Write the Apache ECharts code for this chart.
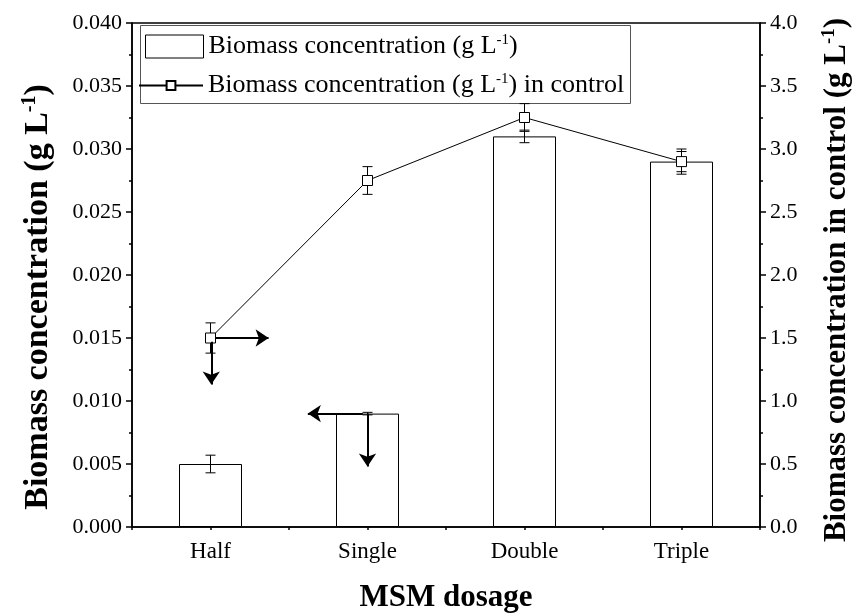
<!DOCTYPE html>
<html><head><meta charset="utf-8">
<script src="https://cdn.jsdelivr.net/npm/echarts@6/dist/echarts.min.js"></script>
<style>html,body{margin:0;padding:0;background:#fff}#c{width:854px;height:616px}</style>
</head><body><div id="c"></div>
<script>
var categories = ['Half', 'Single', 'Double', 'Triple'];
var biomass = [0.005, 0.009, 0.031, 0.029];
var biomassErr = [0.0007, 0.0001, 0.0005, 0.0008];
var control = [1.5, 2.75, 3.25, 2.9];
var controlErr = [0.12, 0.11, 0.11, 0.1];
var leftTicks = {min: 0, max: 0.04, interval: 0.005};
var rightTicks = {min: 0, max: 4.0, interval: 0.5};
// arrow annotations: [x(category units, 1 = Half), y] start -> end
var arrowsRight = [ [[1.03, 1.5], [1.37, 1.5]], [[1.005, 1.47], [1.005, 1.13]] ];
var arrowsLeft = [ [[1.97, 0.009], [1.62, 0.009]], [[2.0, 0.009], [2.0, 0.0048]] ];

var serif = 'Liberation Serif';
var nameBar = 'Biomass concentration (g L-1)';
var nameLine = 'Biomass concentration (g L-1) in control';
var rich = {
  n: {fontFamily: serif, fontSize: 26, color: '#000'},
  s: {fontFamily: serif, fontSize: 15, color: '#000', padding: [0, 0, 12, 0]}
};
function richBold(size, sup) {
  return {
    n: {fontFamily: serif, fontSize: size, fontWeight: 'bold', color: '#000'},
    s: {fontFamily: serif, fontSize: sup, fontWeight: 'bold', color: '#000', padding: [0, 0, Math.round(size * 0.48), 0]}
  };
}
function errData(vals, errs) { return vals.map(function (v, i) { return [i, v - errs[i], v + errs[i]]; }); }
function errRender(params, api) {
  var x = api.value(0), lo = api.value(1), hi = api.value(2);
  var p1 = api.coord([x, lo]), p2 = api.coord([x, hi]);
  var hw = 5;
  var st = {stroke: '#000', lineWidth: 1};
  return {type: 'group', children: [
    {type: 'line', shape: {x1: p1[0], y1: p1[1], x2: p2[0], y2: p2[1]}, style: st},
    {type: 'line', shape: {x1: p1[0] - hw, y1: p1[1], x2: p1[0] + hw, y2: p1[1]}, style: st},
    {type: 'line', shape: {x1: p2[0] - hw, y1: p2[1], x2: p2[0] + hw, y2: p2[1]}, style: st}
  ]};
}
var axisLine = {show: true, lineStyle: {color: '#000', width: 1.5}};
var chart = echarts.init(document.getElementById('c'));
chart.setOption({
  animation: false,
  backgroundColor: '#fff',
  grid: {left: 132, right: 94, top: 23, bottom: 89, show: true, borderColor: '#000', borderWidth: 1.5,
         containLabel: false, outerBoundsMode: 'none'},
  legend: [
    {left: 145, top: 33, itemWidth: 58, itemHeight: 23, padding: 0, data: [{name: nameBar, icon: 'rect'}],
     formatter: function () { return '{n|Biomass concentration (g L}{s|-1}{n|)}'; },
     textStyle: {rich: rich}, itemStyle: {borderColor: '#000', borderWidth: 1, color: '#fff'}},
    {left: 138, top: 72, itemWidth: 64, itemHeight: 11, padding: 0, data: [nameLine],
     formatter: function () { return '{n|Biomass concentration (g L}{s|-1}{n|) in control}'; },
     textStyle: {rich: rich}}
  ],
  graphic: [{type: 'rect', left: 138, top: 23, shape: {width: 490, height: 78},
    style: {fill: 'none', stroke: '#555', lineWidth: 1}, z: 0}],
  xAxis: [
    {type: 'category', data: categories, boundaryGap: true, axisLine: axisLine,
     axisTick: {alignWithLabel: true, length: 6, lineStyle: {color: '#000', width: 1.5}},
     axisLabel: {fontFamily: serif, fontSize: 23, color: '#000', margin: 13},
     name: 'MSM dosage', nameLocation: 'middle', nameGap: 55,
     nameTextStyle: {fontFamily: serif, fontSize: 31, fontWeight: 'bold', color: '#000', verticalAlign: 'top'}},
    {type: 'value', min: 0.5, max: 4.5, interval: 0.5, position: 'bottom',
     axisLine: {show: false}, axisLabel: {show: false}, splitLine: {show: false},
     axisTick: {show: true, length: 3, lineStyle: {color: '#000', width: 1.5}}}
  ],
  yAxis: [
    {type: 'value', min: leftTicks.min, max: leftTicks.max, interval: leftTicks.interval, position: 'left',
     axisLine: axisLine, splitLine: {show: false},
     axisTick: {show: true, length: 6, lineStyle: {color: '#000', width: 1.5}},
     minorTick: {show: true, splitNumber: 2, length: 3, lineStyle: {color: '#000', width: 1.5}},
     axisLabel: {fontFamily: serif, fontSize: 22, color: '#000', margin: 10,
       formatter: function (v) { return v.toFixed(3); }},
     name: '{n|Biomass concentration (g L}{s|-1}{n|)}', nameLocation: 'middle', nameGap: 76, nameRotate: 90,
     nameTextStyle: {rich: richBold(34, 20), padding: [0, 44, 0, 0]}},
    {type: 'value', min: rightTicks.min, max: rightTicks.max, interval: rightTicks.interval, position: 'right',
     axisLine: axisLine, splitLine: {show: false},
     axisTick: {show: true, length: 6, lineStyle: {color: '#000', width: 1.5}},
     minorTick: {show: true, splitNumber: 2, length: 3, lineStyle: {color: '#000', width: 1.5}},
     axisLabel: {fontFamily: serif, fontSize: 22, color: '#000', margin: 10,
       formatter: function (v) { return v.toFixed(1); }},
     name: '{n|Biomass concentration in control (g L}{s|-1}{n|)}', nameLocation: 'middle', nameGap: 60, nameRotate: 90,
     nameTextStyle: {rich: richBold(31, 19), padding: [0, 10, 0, 0]}}
  ],
  series: [
    {name: nameBar, type: 'bar', data: biomass, barWidth: 63, xAxisIndex: 0, yAxisIndex: 0,
     itemStyle: {color: '#fff', borderColor: '#000', borderWidth: 1}, z: 2},
    {type: 'custom', renderItem: errRender, data: errData(biomass, biomassErr), xAxisIndex: 0, yAxisIndex: 0, z: 3},
    {type: 'custom', renderItem: errRender, data: errData(control, controlErr), xAxisIndex: 0, yAxisIndex: 1, z: 3},
    {name: nameLine, type: 'line', data: control, xAxisIndex: 0, yAxisIndex: 1, symbol: 'rect', symbolSize: 10,
     lineStyle: {color: '#000', width: 1}, itemStyle: {color: '#fff', borderColor: '#000', borderWidth: 1}, z: 4},
    {type: 'lines', coordinateSystem: 'cartesian2d', xAxisIndex: 1, yAxisIndex: 1, symbol: ['none', 'arrow'], symbolSize: 13,
     lineStyle: {color: '#000', width: 2, opacity: 1}, data: arrowsRight.map(function (a) { return {coords: a}; }), z: 5},
    {type: 'lines', coordinateSystem: 'cartesian2d', xAxisIndex: 1, yAxisIndex: 0, symbol: ['none', 'arrow'], symbolSize: 13,
     lineStyle: {color: '#000', width: 2, opacity: 1}, data: arrowsLeft.map(function (a) { return {coords: a}; }), z: 5}
  ]
});
</script></body></html>
